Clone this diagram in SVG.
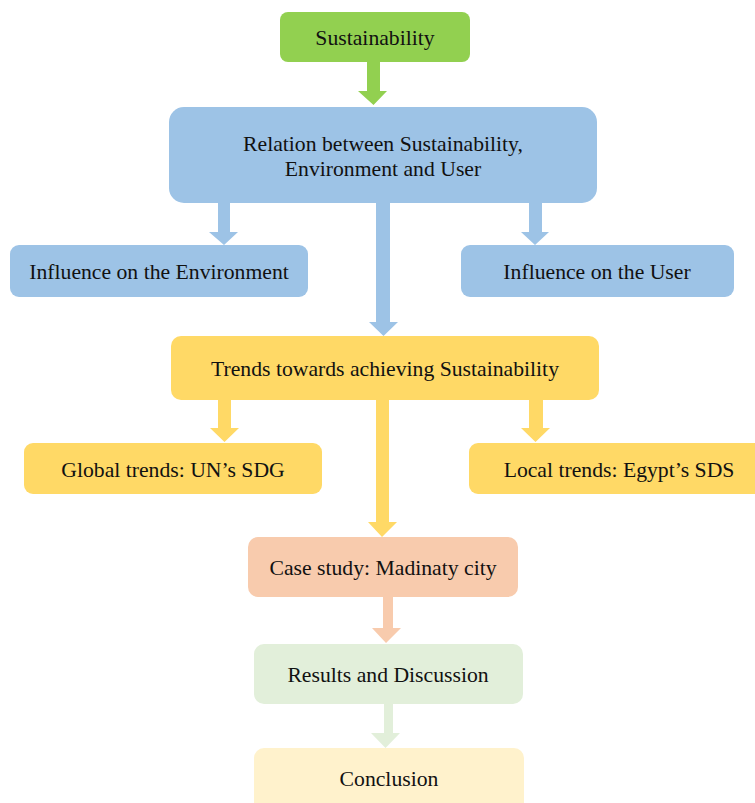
<svg xmlns="http://www.w3.org/2000/svg" width="755" height="803" viewBox="0 0 755 803">
<style>
text{font-family:'Liberation Serif','Tinos','DejaVu Serif',serif;font-size:21.7px;fill:#111;text-anchor:middle}
.g{fill:#92D050}.b{fill:#9DC3E6}.y{fill:#FFD966}.s{fill:#F8CBAD}.lg{fill:#E2EFDA}.ly{fill:#FFF2CC}
</style>
<rect width="755" height="803" fill="#fff"/>
<g id="connectors">
<path class="g" d="M367 62H380V91H387L373.5 105L358 91H367Z"/>
<path class="b" d="M218 203H230V232H238L224 245L209 232H218Z"/>
<path class="b" d="M529 203H542V232H549L535 245L521 232H529Z"/>
<path class="b" d="M376 203H390V322H398L383.5 336L369 322H376Z"/>
<path class="y" d="M218 400H231V428H239L224.5 442L210 428H218Z"/>
<path class="y" d="M529 400H543V428H550L535.5 442L521 428H529Z"/>
<path class="y" d="M376 400H389V522H397L382 537L368 522H376Z"/>
<path class="s" d="M383 597H393V628H401L386 643L372 628H383Z"/>
<path class="lg" d="M384 704H393V733H400L385.5 748L371 733H384Z"/>
</g>
<g id="sustainability"><rect class="g" x="280" y="12" width="190" height="50" rx="8"/><text x="375" y="45">Sustainability</text></g>
<g id="relation"><rect class="b" x="169" y="107" width="428" height="96" rx="15"/><text x="383" y="151">Relation between Sustainability,</text><text x="383" y="176">Environment and User</text></g>
<g id="influence-env"><rect class="b" x="10" y="245" width="298" height="52" rx="9"/><text x="159" y="279">Influence on the Environment</text></g>
<g id="influence-user"><rect class="b" x="461" y="245" width="273" height="52" rx="9"/><text x="597" y="279">Influence on the User</text></g>
<g id="trends"><rect class="y" x="171" y="336" width="428" height="64" rx="10"/><text x="385" y="376">Trends towards achieving Sustainability</text></g>
<g id="global"><rect class="y" x="24" y="443" width="298" height="51" rx="9"/><text x="173" y="477">Global trends: UN’s SDG</text></g>
<g id="local"><rect class="y" x="469" y="443" width="300" height="51" rx="9"/><text x="619" y="477">Local trends: Egypt’s SDS</text></g>
<g id="case-study"><rect class="s" x="248" y="537" width="270" height="60" rx="10"/><text x="383" y="575">Case study: Madinaty city</text></g>
<g id="results"><rect class="lg" x="254" y="644" width="269" height="60" rx="10"/><text x="388" y="682">Results and Discussion</text></g>
<g id="conclusion"><rect class="ly" x="254" y="748" width="270" height="70" rx="10"/><text x="389" y="786">Conclusion</text></g>
</svg>
